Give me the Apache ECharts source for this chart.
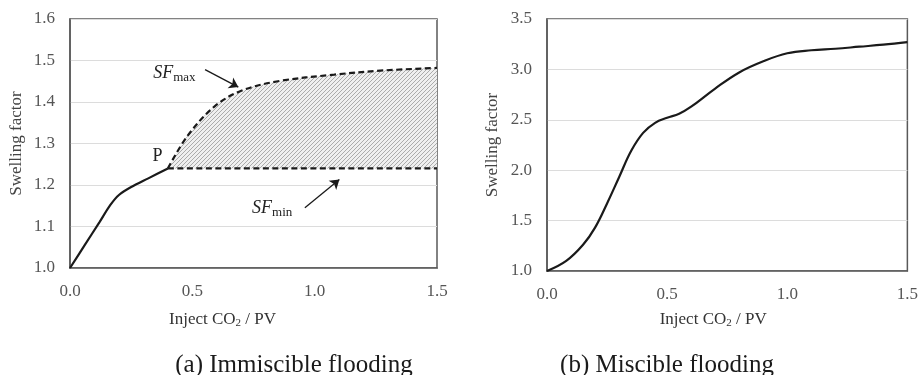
<!DOCTYPE html>
<html>
<head>
<meta charset="utf-8">
<script src="https://cdn.jsdelivr.net/npm/echarts@6/dist/echarts.min.js"></script>
<style>
  html, body { margin: 0; padding: 0; background: #fff; }
  #chart { width: 921px; height: 375px; }
</style>
</head>
<body>
<div id="chart"></div>
<script>
// (a) Immiscible flooding: swelling factor up to point P, then the SF bounds
const immiscibleX  = [0, 0.06, 0.12, 0.165, 0.20, 0.25, 0.32, 0.40];
const immiscibleSF = [1.000, 1.055, 1.110, 1.152, 1.176, 1.195, 1.216, 1.240];
const sfMaxX = [0.40, 0.48, 0.59, 0.70, 0.85, 1.08, 1.28, 1.50];
const sfMaxY = [1.240, 1.318, 1.389, 1.427, 1.450, 1.466, 1.476, 1.482];
const sfMinX = [0.40, 1.50];
const sfMinY = [1.240, 1.240];

// (b) Miscible flooding
const miscibleX  = [0, 0.08, 0.15, 0.20, 0.25, 0.30, 0.35, 0.40, 0.45, 0.50, 0.55, 0.60, 0.70, 0.80, 0.90, 1.00, 1.10, 1.20, 1.30, 1.40, 1.50];
const miscibleSF = [1.000, 1.100, 1.260, 1.430, 1.670, 1.930, 2.190, 2.370, 2.470, 2.520, 2.560, 2.630, 2.810, 2.970, 3.080, 3.160, 3.190, 3.205, 3.225, 3.245, 3.270];

// Axis ranges and tick steps
const xRange = [0, 1.5], xStep = 0.5;
const yRangeA = [1.0, 1.6], yStepA = 0.1;
const yRangeB = [1.0, 3.5], yStepB = 0.5;

// Annotation anchors (data units)
const labelP = [0.335, 1.270];
const labelSfMax = [0.338, 1.470];
const labelSfMin = [0.742, 1.145];
const arrowSfMax = [[0.552, 1.478], [0.688, 1.436]];
const arrowSfMin = [[0.960, 1.145], [1.101, 1.213]];

const captions = ['(a) Immiscible flooding', '(b) Miscible flooding'];

const FONT = "'Liberation Serif', 'Times New Roman', serif";
const TICK_COLOR = '#555';
const FRAME = '#595959';
const GRID_LINE = '#dcdcdc';

const pairs = (xs, ys) => xs.map((x, i) => [x, ys[i]]);

// Fine diagonal hatch used for the band between SFmin and SFmax
function hatchPattern() {
  const c = document.createElement('canvas');
  c.width = 4; c.height = 4;
  const g = c.getContext('2d');
  g.fillStyle = '#efefef';
  g.fillRect(0, 0, 4, 4);
  g.strokeStyle = '#a3a3a3';
  g.lineWidth = 0.9;
  g.beginPath();
  g.moveTo(0, 4); g.lineTo(4, 0);
  g.moveTo(-1, 1); g.lineTo(1, -1);
  g.moveTo(3, 5); g.lineTo(5, 3);
  g.stroke();
  return c;
}

const axisNameRich = {
  sub: { fontFamily: FONT, fontSize: 11, color: '#333', padding: [8, 0, 0, 0] }
};

function xAxis(gridIndex, padRight, gap) {
  return {
    type: 'value', gridIndex,
    min: xRange[0], max: xRange[1], interval: xStep,
    name: 'Inject CO{sub|2} / PV',
    nameLocation: 'middle', nameGap: gap,
    nameTextStyle: { fontFamily: FONT, fontSize: 17, color: '#333', padding: [0, padRight, 0, 0], rich: axisNameRich },
    axisLine: { show: true, lineStyle: { color: FRAME, width: 1.5 } },
    axisTick: { show: false },
    splitLine: { show: false },
    axisLabel: { fontFamily: FONT, fontSize: 17, color: TICK_COLOR, margin: 15, formatter: v => v.toFixed(1) }
  };
}

function yAxis(gridIndex, range, step, gap) {
  return {
    type: 'value', gridIndex,
    min: range[0], max: range[1], interval: step,
    name: 'Swelling factor',
    nameLocation: 'middle', nameGap: gap,
    nameTextStyle: { fontFamily: FONT, fontSize: 17, color: '#444' },
    axisLine: { show: true, lineStyle: { color: FRAME, width: 1.5 } },
    axisTick: { show: false },
    splitLine: { show: true, lineStyle: { color: GRID_LINE, width: 1.2 } },
    axisLabel: { fontFamily: FONT, fontSize: 17, color: TICK_COLOR, margin: 15, formatter: v => v.toFixed(1) }
  };
}

const sfRich = {
  i: { fontFamily: FONT, fontSize: 18, fontStyle: 'italic', color: '#222' },
  s: { fontFamily: FONT, fontSize: 13, color: '#222', padding: [9, 0, 0, 0] },
  p: { fontFamily: FONT, fontSize: 18, color: '#222' }
};

function textPoint(coord, text) {
  return {
    coord,
    label: { show: true, position: 'right', distance: 0, formatter: text, rich: sfRich }
  };
}

const chart = echarts.init(document.getElementById('chart'), null, { renderer: 'canvas' });

chart.setOption({
  animation: false,
  backgroundColor: '#fff',
  grid: [
    { left: 70, top: 19, width: 367, height: 249, show: true, borderColor: FRAME, borderWidth: 1.5, backgroundColor: 'transparent' },
    { left: 547, top: 19, width: 364, height: 252, show: true, borderColor: FRAME, borderWidth: 1.5, backgroundColor: 'transparent' }
  ],
  xAxis: [xAxis(0, 62, 42), xAxis(1, 28, 39)],
  yAxis: [yAxis(0, yRangeA, yStepA, 45), yAxis(1, yRangeB, yStepB, 46)],
  series: [
    {
      // hatched band between the SFmin level and the SFmax curve
      type: 'line', xAxisIndex: 0, yAxisIndex: 0,
      data: pairs(sfMaxX, sfMaxY),
      smooth: 0.35, showSymbol: false, silent: true, z: 1,
      lineStyle: { width: 0, opacity: 0 },
      areaStyle: { origin: sfMinY[0], color: { image: hatchPattern(), repeat: 'repeat' }, opacity: 1 }
    },
    {
      type: 'line', xAxisIndex: 0, yAxisIndex: 0,
      data: pairs(immiscibleX, immiscibleSF),
      smooth: 0.3, showSymbol: false, silent: true, z: 3,
      lineStyle: { color: '#1a1a1a', width: 2.2 }
    },
    {
      type: 'line', xAxisIndex: 0, yAxisIndex: 0,
      data: pairs(sfMaxX, sfMaxY),
      smooth: 0.35, showSymbol: false, silent: true, z: 3,
      lineStyle: { color: '#1a1a1a', width: 2.2, type: [6, 3.5] },
      markLine: {
        silent: true, animation: false,
        symbol: ['none', 'arrow'], symbolSize: 9,
        label: { show: false },
        lineStyle: { color: '#1a1a1a', width: 1.3, type: 'solid' },
        data: [
          [{ coord: arrowSfMax[0] }, { coord: arrowSfMax[1] }],
          [{ coord: arrowSfMin[0] }, { coord: arrowSfMin[1] }]
        ]
      }
    },
    {
      type: 'line', xAxisIndex: 0, yAxisIndex: 0,
      data: pairs(sfMinX, sfMinY),
      showSymbol: false, silent: true, z: 3,
      lineStyle: { color: '#1a1a1a', width: 2.2, type: [6, 3.5] },
      markPoint: {
        silent: true, animation: false,
        symbol: 'rect', symbolSize: 1,
        itemStyle: { color: 'rgba(0,0,0,0)' },
        data: [
          textPoint(labelP, '{p|P}'),
          textPoint(labelSfMax, '{i|SF}{s|max}'),
          textPoint(labelSfMin, '{i|SF}{s|min}')
        ]
      }
    },
    {
      type: 'line', xAxisIndex: 1, yAxisIndex: 1,
      data: pairs(miscibleX, miscibleSF),
      smooth: 0.4, showSymbol: false, silent: true, z: 3,
      lineStyle: { color: '#1a1a1a', width: 2.2 }
    }
  ],
  graphic: [
    { type: 'text', silent: true, style: { x: 294, y: 365.6, text: captions[0], fill: '#1a1a1a', font: "25px 'Liberation Serif', 'Times New Roman', serif", textAlign: 'center', textVerticalAlign: 'middle' } },
    { type: 'text', silent: true, style: { x: 667, y: 365.6, text: captions[1], fill: '#1a1a1a', font: "25px 'Liberation Serif', 'Times New Roman', serif", textAlign: 'center', textVerticalAlign: 'middle' } }
  ]
});
</script>
</body>
</html>
